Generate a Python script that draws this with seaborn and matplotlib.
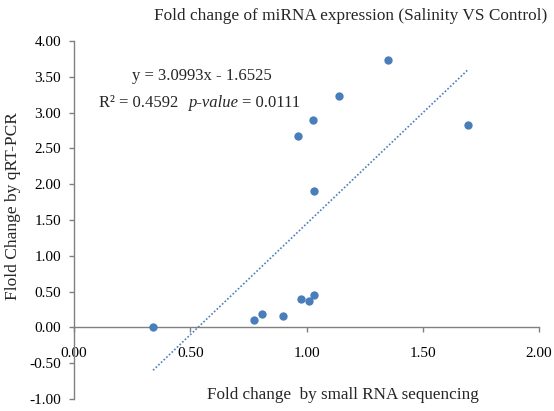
import numpy as np
import pandas as pd
import matplotlib
matplotlib.use("Agg")
import matplotlib.pyplot as plt
import seaborn as sns

# Data
seq_fc = [0.34, 0.776, 0.807, 0.897, 0.976, 1.012, 1.034, 1.034, 0.962, 1.026, 1.141, 1.352, 1.696]
qpcr_fc = [0.00, 0.11, 0.19, 0.16, 0.39, 0.37, 0.45, 1.90, 2.67, 2.90, 3.23, 3.74, 2.82]
slope = 3.0993
intercept = -1.6525
r_squared = 0.4592
p_value = 0.0111
x_ticks = [0.0, 0.5, 1.0, 1.5, 2.0]
y_ticks = [-1.0, -0.5, 0.0, 0.5, 1.0, 1.5, 2.0, 2.5, 3.0, 3.5, 4.0]

sns.set_theme(style="white")
plt.rcParams['font.family'] = ['Liberation Serif', 'DejaVu Serif']

df = pd.DataFrame({"x": seq_fc, "y": qpcr_fc})
trend_x = [min(seq_fc), max(seq_fc)]
trend = pd.DataFrame({"x": trend_x, "y": [slope * v + intercept for v in trend_x]})

W, H = 554, 411
fig = plt.figure(figsize=(W / 100, H / 100), dpi=100)
ax = fig.add_axes([74 / W, 1 - 399 / H, (539 - 74) / W, (399 - 41) / H])

color = "#4A7EBB"
sns.lineplot(data=trend, x="x", y="y", ax=ax, color=color, linestyle=(0, (1, 1.2)),
             linewidth=1.2)
sns.scatterplot(data=df, x="x", y="y", ax=ax, color=color, s=36, edgecolor=color,
                linewidth=0, zorder=3)

ax.set_xlim(0, 2.0)
ax.set_ylim(-1.0, 4.0)
ax.set_xticks(x_ticks)
ax.set_yticks(y_ticks)
ax.set_xticklabels([f"{v:.2f}" for v in x_ticks], fontsize=11)
ax.set_yticklabels([f"{v:.2f}" for v in y_ticks], fontsize=11)

for s in ["top", "right"]:
    ax.spines[s].set_visible(False)
ax.spines["bottom"].set_position(("data", 0))
ax.spines["bottom"].set_color("#808080")
ax.spines["left"].set_color("#808080")
ax.spines["bottom"].set_linewidth(1.0)
ax.spines["left"].set_linewidth(1.0)
ax.tick_params(axis="both", direction="out", length=3.8, color="#808080", width=1.0,
               bottom=True, left=True, labelcolor="black")
ax.tick_params(axis="y", pad=5.5)
ax.tick_params(axis="x", pad=10.5)

ax.set_xlabel("")
ax.set_ylabel("")
fig.text(343 / W, 1 - 395 / H, "Fold change  by small RNA sequencing", ha="center",
         va="center", fontsize=12.3)
fig.text(13 / W, 1 - 206 / H, "Flold Change by qRT-PCR", ha="center", va="center",
         rotation=90, fontsize=12.5)
fig.text(351 / W, 1 - 16 / H, "Fold change of miRNA expression (Salinity VS Control)",
         ha="center", va="center", fontsize=12.4)

fig.text(202 / W, 1 - 76 / H, f"y = {slope}x - {abs(intercept)}", ha="center",
         va="center", fontsize=12)
fig.text(99 / W, 1 - 103 / H, f"R² = {r_squared}", ha="left", va="center", fontsize=12)
fig.text(189 / W, 1 - 103 / H, "p-value", ha="left", va="center", fontsize=12,
         style="italic")
fig.text(242 / W, 1 - 103 / H, f"= {p_value}", ha="left", va="center", fontsize=12)

fig.savefig("out.png", dpi=100)
